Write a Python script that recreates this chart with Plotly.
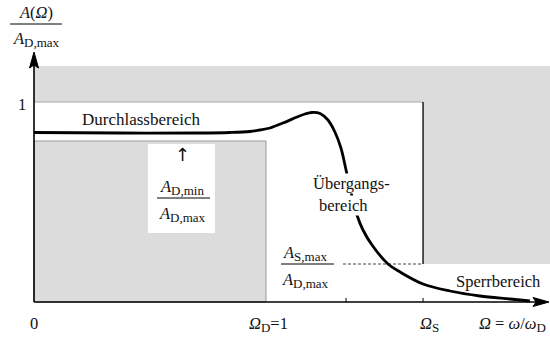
import plotly.graph_objects as go

W, H = 550, 338

# Normalised frequency marks and attenuation levels of the tolerance scheme
OMEGA_D = 1.0
OMEGA_S = 1.677
OMEGA_TICK = 1.345
OMEGA_END = 2.22
A_MAX = 1.0
A_D_MIN = 0.805
A_S_MAX = 0.19
GRAY_TOP = 1.18
Y_ARROW = 1.25

# Sketched magnitude response A(Ω)/A_D,max
omega = [0.0, 0.371, 0.716, 0.845, 0.931, 0.974, 1.017, 1.073, 1.134, 1.168,
         1.198, 1.233, 1.267, 1.297, 1.323, 1.345, 1.366, 1.392, 1.418, 1.457,
         1.526, 1.578, 1.677, 1.793, 1.922, 2.052, 2.138]
amplitude = [0.8475, 0.845, 0.845, 0.8475, 0.8525, 0.86, 0.87, 0.895, 0.925, 0.94,
             0.9475, 0.9425, 0.91, 0.85, 0.77, 0.66, 0.55, 0.435, 0.36, 0.285,
             0.19, 0.15, 0.09, 0.055, 0.03, 0.015, 0.005]

GRAY = "#dcdcdc"
FONT = "Liberation Serif, Times New Roman, serif"
INK = "#111111"

# Axis ranges chosen so that Ω=0 / A=0 sit at the axis cross
x_range = [-34 / 232, (W - 34) / 232]
y_range = [-(H - 302) / 200, 302 / 200]


def paper(px, py):
    return dict(x=px / W, y=1 - py / H, xref="paper", yref="paper")


fig = go.Figure()

fig.add_trace(go.Scatter(
    x=omega, y=amplitude, mode="lines",
    line=dict(color="black", width=2.8, shape="spline", smoothing=1.0),
    hoverinfo="skip", showlegend=False,
))

shapes = []
# stop-band / forbidden region (gray background)
shapes.append(dict(type="rect", xref="x", yref="y", x0=0, x1=OMEGA_END + 0.1,
                   y0=0, y1=GRAY_TOP, fillcolor=GRAY, line=dict(width=0), layer="below"))
# allowed region up to Ω_S
shapes.append(dict(type="rect", xref="x", yref="y", x0=0, x1=OMEGA_S,
                   y0=0, y1=A_MAX, fillcolor="white", line=dict(width=0), layer="below"))
# allowed region beyond Ω_S below A_S,max
shapes.append(dict(type="rect", xref="x", yref="y", x0=OMEGA_S, x1=OMEGA_END + 0.1,
                   y0=0, y1=A_S_MAX, fillcolor="white", line=dict(width=0), layer="below"))
# forbidden pass-band box below A_D,min
shapes.append(dict(type="rect", xref="x", yref="y", x0=0, x1=OMEGA_D,
                   y0=0, y1=A_D_MIN, fillcolor=GRAY,
                   line=dict(color="#9a9a9a", width=1), layer="below"))
# label box inside the gray area
shapes.append(dict(type="rect", xref="x", yref="y", x0=0.491, x1=0.780,
                   y0=0.345, y1=0.79, fillcolor="white", line=dict(width=0), layer="below"))
# borders of the allowed region
shapes.append(dict(type="line", xref="x", yref="y", x0=0, x1=OMEGA_S, y0=A_MAX, y1=A_MAX,
                   line=dict(color="#a8a8a8", width=1), layer="below"))
shapes.append(dict(type="line", xref="x", yref="y", x0=OMEGA_S, x1=OMEGA_S,
                   y0=A_S_MAX, y1=A_MAX, line=dict(color="#2a2a2a", width=1.6), layer="below"))
shapes.append(dict(type="line", xref="x", yref="y", x0=1.332, x1=OMEGA_S,
                   y0=A_S_MAX, y1=A_S_MAX,
                   line=dict(color="#444444", width=1, dash="3px,2px"), layer="below"))
# axes
shapes.append(dict(type="line", xref="x", yref="y", x0=0, x1=OMEGA_END - 0.02, y0=0, y1=0,
                   line=dict(color="black", width=1.6)))
shapes.append(dict(type="line", xref="x", yref="y", x0=0, x1=0, y0=0, y1=Y_ARROW - 0.03,
                   line=dict(color="black", width=1.6)))
# arrow heads (pixel-sized, anchored at the axis ends)
shapes.append(dict(type="path", xref="x", yref="y", xsizemode="pixel", ysizemode="pixel",
                   xanchor=OMEGA_END, yanchor=0,
                   path="M0,0 L-16,4.5 L-13,0 L-16,-4.5 Z",
                   fillcolor="black", line=dict(color="black", width=1)))
shapes.append(dict(type="path", xref="x", yref="y", xsizemode="pixel", ysizemode="pixel",
                   xanchor=0, yanchor=Y_ARROW,
                   path="M0,0 L-4.5,-16 L0,-13 L4.5,-16 Z",
                   fillcolor="black", line=dict(color="black", width=1)))
# small ticks on the frequency axis
for xt in (OMEGA_TICK, OMEGA_S):
    shapes.append(dict(type="line", xref="x", yref="y", x0=xt, x1=xt, y0=0, y1=0.02,
                       line=dict(color="black", width=1)))

# fraction bars
for (xa, xb, yb) in ((10, 62, 24), (157, 210, 198), (281, 334, 264)):
    shapes.append(dict(type="line", xref="paper", yref="paper",
                       x0=xa / W, x1=xb / W, y0=1 - yb / H, y1=1 - yb / H,
                       line=dict(color="black", width=1)))

annotations = []


def label(text, px, py, size=16.5, xanchor="center", bg=None, family=FONT):
    d = dict(text=text, showarrow=False, xanchor=xanchor, yanchor="middle",
             font=dict(family=family, size=size, color=INK), borderpad=0)
    if bg:
        d["bgcolor"] = bg
    d.update(paper(px, py))
    annotations.append(d)


def sub(text):
    return "<sub><span style='font-size:13px'>" + text + "</span></sub>"


A_DMAX = "<i>A</i>" + sub("D,max")

label("<i>A</i>(<i>Ω</i>)", 36, 13)
label(A_DMAX, 36, 39)
label("1", 22, 105)
label("0", 34, 323)
label("<i>Ω</i>" + sub("D") + "=1", 268, 324)
label("<i>Ω</i>" + sub("S"), 429, 324)
label("<i>Ω</i> = <i>ω</i>/<i>ω</i>" + sub("D"), 478, 324, xanchor="left")
label("Durchlassbereich", 141, 119, size=17)
label("↑", 182, 154, size=18, family="DejaVu Sans")
label("<i>A</i>" + sub("D,min"), 182, 187)
label(A_DMAX, 182, 214)
label("Übergangs-", 312, 183, xanchor="left", bg="white")
label("bereich", 318, 205, xanchor="left", bg="white")
label("<i>A</i>" + sub("S,max"), 305, 254)
label(A_DMAX, 305, 280)
label("Sperrbereich", 455, 281, xanchor="left")

fig.update_layout(
    width=W, height=H, autosize=False,
    margin=dict(l=0, r=0, t=0, b=0),
    paper_bgcolor="white", plot_bgcolor="white",
    xaxis=dict(range=x_range, visible=False, fixedrange=True),
    yaxis=dict(range=y_range, visible=False, fixedrange=True),
    shapes=shapes, annotations=annotations, showlegend=False,
)

fig.write_html("out.html")
